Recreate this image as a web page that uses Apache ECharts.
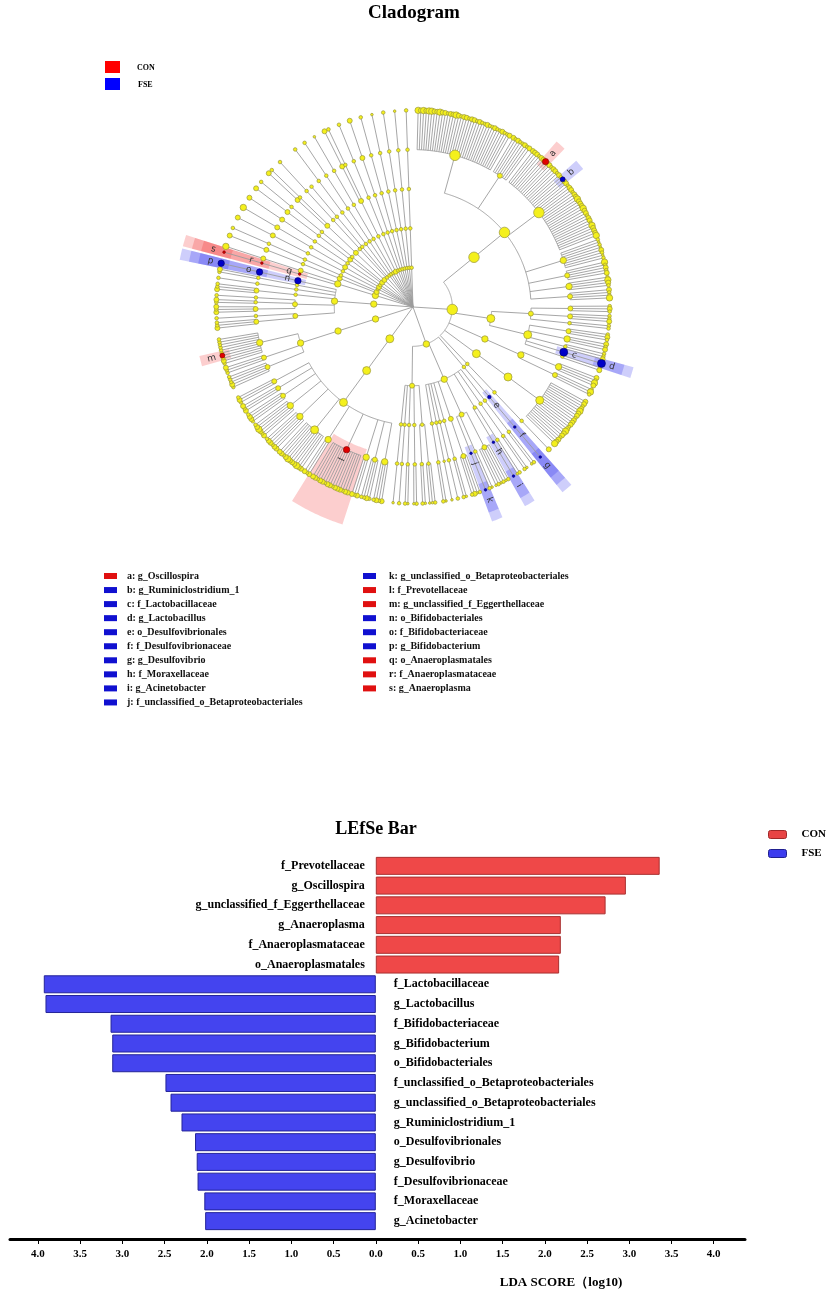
<!DOCTYPE html>
<html><head><meta charset="utf-8">
<script src="https://cdn.jsdelivr.net/npm/echarts@6/dist/echarts.min.js"></script>
<style>html,body{margin:0;padding:0;background:#fff}#main{width:834px;height:1299px}</style>
</head><body><div id="main"></div>
<script>
// ---------------- LEfSe bar data ----------------
const barCategories = ['f_Prevotellaceae','g_Oscillospira','g_unclassified_f_Eggerthellaceae','g_Anaeroplasma','f_Anaeroplasmataceae','o_Anaeroplasmatales','f_Lactobacillaceae','g_Lactobacillus','f_Bifidobacteriaceae','g_Bifidobacterium','o_Bifidobacteriales','f_unclassified_o_Betaproteobacteriales','g_unclassified_o_Betaproteobacteriales','g_Ruminiclostridium_1','o_Desulfovibrionales','g_Desulfovibrio','f_Desulfovibrionaceae','f_Moraxellaceae','g_Acinetobacter'];
const barGroups = ['CON','CON','CON','CON','CON','CON','FSE','FSE','FSE','FSE','FSE','FSE','FSE','FSE','FSE','FSE','FSE','FSE','FSE'];
const ldaScores = [3.36,2.96,2.72,2.19,2.19,2.17,3.93,3.91,3.14,3.12,3.12,2.49,2.43,2.30,2.14,2.12,2.11,2.03,2.02];
const ldaTicks = [-4,-3.5,-3,-2.5,-2,-1.5,-1,-0.5,0,0.5,1,1.5,2,2.5,3,3.5,4];

// ---------------- Cladogram biomarkers ----------------
const markerLetters = ['a','b','c','d','e','f','g','h','i','j','k','l','m','n','o','p','q','r','s'];
const markerTaxa = ['g_Oscillospira','g_Ruminiclostridium_1','f_Lactobacillaceae','g_Lactobacillus','o_Desulfovibrionales','f_Desulfovibrionaceae','g_Desulfovibrio','f_Moraxellaceae','g_Acinetobacter','f_unclassified_o_Betaproteobacteriales','g_unclassified_o_Betaproteobacteriales','f_Prevotellaceae','g_unclassified_f_Eggerthellaceae','o_Bifidobacteriales','f_Bifidobacteriaceae','g_Bifidobacterium','o_Anaeroplasmatales','f_Anaeroplasmataceae','g_Anaeroplasma'];
const markerGroups = ['CON','FSE','FSE','FSE','FSE','FSE','FSE','FSE','FSE','FSE','FSE','CON','CON','FSE','FSE','FSE','CON','CON','CON'];

// ---------------- Cladogram tree (estimated) ----------------
// node size codes 0..5 (relative abundance class)
const phylumSizes = [['Firmicutes',5],['Proteobacteria',3],['Bacteroidetes',4],['Actinobacteria_2',3],['Actinobacteria',3],['Tenericutes',3],['Cyanobacteria',2],['Verrucomicrobia',2],['Patescibacteria',2],['Epsilonbacteraeota',2],['Fusobacteria',2]];
const classSizes = [['Clostridia',5],['Bacilli',4],['Negativicutes',3],['Erysipelotrichia',4],['Limnochordia',1],['Deltaproteobacteria',1],['Gammaproteobacteria',3],['Alphaproteobacteria',2],['Bacteroidia',4],['Coriobacteriia',3],['Actinobacteria',3],['Mollicutes',3],['Melainabacteria',2],['Verrucomicrobiae',2],['Saccharimonadia',2],['Campylobacteria',2]];
const orderSizes = [['Clostridiales',5],['Bacillales',2],['Lactobacillales',4],['Selenomonadales',3],['Erysipelotrichales',4],['Desulfovibrionales',1],['Pseudomonadales',1],['Betaproteobacteriales',2],['Enterobacteriales',2],['Bacteroidales',4],['Coriobacteriales',3],['Bifidobacteriales',3],['Anaeroplasmatales',0],['Mollicutes_RF39',2],['Micrococcales',2],['Corynebacteriales',2],['Campylobacterales',2],['Fusobacteriales',2]];
// [phylum, class, order, family, familySize, genera sizes ("name=size" for named genera)]
const familyRows = [
['Firmicutes','Clostridia','Clostridiales','Lachnospiraceae',5,'3 2 3 2 3 3 2 2 3 2 2 1 2 2 3 2 1 2 2 1 2 2 1 2 1 1 2 1 1 2 1 1 2 1 1 2'],
['Firmicutes','Clostridia','Clostridiales','Christensenellaceae',2,'2 1 2 1 1 2 1 2'],
['Firmicutes','Clostridia','Clostridiales','Ruminococcaceae',5,'2 2 2 1 2 2 Oscillospira=3 2 2 1 2 2 1 2 1 Ruminiclostridium_1=2 2 2 1 2 2 1 2 2 3 2 2 2 3 2 2 1 2 2 1 3 2 2 2 3'],
['Firmicutes','Clostridia','Clostridiales','Peptococcaceae',3,'1 0 1 0 2 1 0 1'],
['Firmicutes','Clostridia','Clostridiales','Clostridiaceae_1',2,'3 1 2 1 2'],
['Firmicutes','Clostridia','Clostridiales','Peptostreptococcaceae',3,'1 3 2 1'],
['Firmicutes','Clostridia','Clostridiales','Family_XIII',2,'2 1 1 3'],
['Firmicutes','Bacilli','Bacillales','Staphylococcaceae',2,'1 2 1'],
['Firmicutes','Bacilli','Bacillales','Bacillaceae',2,'1 1 2'],
['Firmicutes','Bacilli','Bacillales','Planococcaceae',1,'1 1'],
['Firmicutes','Bacilli','Lactobacillales','Enterococcaceae',2,'1 2 1'],
['Firmicutes','Bacilli','Lactobacillales','Streptococcaceae',3,'2 1 2'],
['Firmicutes','Bacilli','Lactobacillales','Leuconostocaceae',1,'1 1 2'],
['Firmicutes','Bacilli','Lactobacillales','Lactobacillaceae',4,'Lactobacillus=4'],
['Firmicutes','Bacilli','Lactobacillales','Carnobacteriaceae',1,'1 2'],
['Firmicutes','Negativicutes','Selenomonadales','Veillonellaceae',3,'2 1 3 2'],
['Firmicutes','Negativicutes','Selenomonadales','Acidaminococcaceae',2,'1 3 1'],
['Firmicutes','Erysipelotrichia','Erysipelotrichales','Erysipelotrichaceae',4,'2 2 1 2 3 2 2 1 2 2 2 1 2 3 2 2 1 2 2 3'],
['Firmicutes','Limnochordia','Limnochordales','Limnochordaceae',1,'2'],
['Proteobacteria','Deltaproteobacteria','Desulfovibrionales','Desulfovibrionaceae',0,'Desulfovibrio=0'],
['Proteobacteria','Gammaproteobacteria','Aeromonadales','Succinivibrionaceae',1,'1 0'],
['Proteobacteria','Gammaproteobacteria','Pasteurellales','Pasteurellaceae',1,'0 1'],
['Proteobacteria','Gammaproteobacteria','Pseudomonadales','Pseudomonadaceae',1,'1 0'],
['Proteobacteria','Gammaproteobacteria','Pseudomonadales','Moraxellaceae',0,'Acinetobacter=0'],
['Proteobacteria','Gammaproteobacteria','Betaproteobacteriales','Burkholderiaceae',2,'1 0 1 0 1 0'],
['Proteobacteria','Gammaproteobacteria','Betaproteobacteriales','Neisseriaceae',1,'0 1'],
['Proteobacteria','Gammaproteobacteria','Betaproteobacteriales','unclassified_o_Betaproteobacteriales',0,'unclassified_o_Betaproteobacteriales=0'],
['Proteobacteria','Gammaproteobacteria','Enterobacteriales','Enterobacteriaceae',2,'1 0 2 1'],
['Proteobacteria','Gammaproteobacteria','Xanthomonadales','Xanthomonadaceae',1,'0 1'],
['Proteobacteria','Gammaproteobacteria','Cardiobacteriales','Wohlfahrtiimonadaceae',1,'1'],
['Proteobacteria','Gammaproteobacteria','Legionellales','Legionellaceae',0,'0'],
['Proteobacteria','Gammaproteobacteria','Oceanospirillales','Halomonadaceae',1,'0 1'],
['Proteobacteria','Alphaproteobacteria','Rhizobiales','Rhizobiaceae',1,'1 0 0'],
['Proteobacteria','Alphaproteobacteria','Rhizobiales','Beijerinckiaceae',1,'0 1'],
['Proteobacteria','Alphaproteobacteria','Sphingomonadales','Sphingomonadaceae',1,'1 0'],
['Proteobacteria','Alphaproteobacteria','Rhodobacterales','Rhodobacteraceae',1,'0 1'],
['Proteobacteria','Alphaproteobacteria','Caulobacterales','Caulobacteraceae',1,'1'],
['Proteobacteria','Alphaproteobacteria','Rickettsiales','Mitochondria',1,'0'],
['Bacteroidetes','Bacteroidia','Bacteroidales','Rikenellaceae',3,'2 1 2 1'],
['Bacteroidetes','Bacteroidia','Bacteroidales','Tannerellaceae',2,'1 2 1 1'],
['Bacteroidetes','Bacteroidia','Bacteroidales','Barnesiellaceae',3,'2 1 2'],
['Bacteroidetes','Bacteroidia','Bacteroidales','Prevotellaceae',3,'2 2 1 2 2 2 1 2 2 1 2 2 1 2 2'],
['Bacteroidetes','Bacteroidia','Bacteroidales','Bacteroidaceae',3,'2 1 2'],
['Bacteroidetes','Bacteroidia','Bacteroidales','Muribaculaceae',4,'2 2 3 2 2 2 3 2 1 2 2'],
['Bacteroidetes','Bacteroidia','Bacteroidales','Marinifilaceae',3,'2 2 1 2 2 1'],
['Bacteroidetes','Bacteroidia','Bacteroidales','p-2534-18B5_gut_group',3,'2 1 2 3 2 1'],
['Bacteroidetes','Bacteroidia','Bacteroidales','Dysgonomonadaceae',2,'1 2 2 1'],
['Bacteroidetes','Bacteroidia','Bacteroidales','Bacteroidales_unclassified',2,'2 1 2'],
['Bacteroidetes','Bacteroidia','Bacteroidales','F082',2,'1 2 1'],
['Actinobacteria_2','Coriobacteriia','Coriobacteriales','Atopobiaceae',2,'1 2 1 1 1'],
['Actinobacteria_2','Coriobacteriia','Coriobacteriales','Coriobacteriaceae',2,'1 1 2'],
['Actinobacteria_2','Coriobacteriia','Coriobacteriales','Eggerthellaceae',3,'1 2 1 unclassified_f_Eggerthellaceae=2 1 1 1 1 1 1'],
['Actinobacteria','Actinobacteria','Corynebacteriales','Corynebacteriaceae',2,'2 1 1'],
['Actinobacteria','Actinobacteria','Corynebacteriales','Nocardiaceae',1,'1'],
['Actinobacteria','Actinobacteria','Micrococcales','Micrococcaceae',2,'2 1 2'],
['Actinobacteria','Actinobacteria','Micrococcales','Microbacteriaceae',1,'1 2'],
['Actinobacteria','Actinobacteria','Micrococcales','Brevibacteriaceae',1,'1'],
['Actinobacteria','Actinobacteria','Propionibacteriales','Propionibacteriaceae',2,'2 1 1'],
['Actinobacteria','Actinobacteria','Streptomycetales','Streptomycetaceae',1,'1'],
['Actinobacteria','Actinobacteria','Actinomycetales','Actinomycetaceae',1,'1 2'],
['Actinobacteria','Actinobacteria','Bifidobacteriales','Bifidobacteriaceae',3,'Bifidobacterium=3'],
['Tenericutes','Mollicutes','Anaeroplasmatales','Anaeroplasmataceae',0,'Anaeroplasma=0'],
['Tenericutes','Mollicutes','Mollicutes_RF39','RF39_f',2,'3'],
['Cyanobacteria','Melainabacteria','Gastranaerophilales','Gastranaerophilales_f',2,'2'],
['Cyanobacteria','Oxyphotobacteria','Chloroplast','Chloroplast_f',1,'1'],
['Spirochaetes','Spirochaetia','Spirochaetales','Spirochaetaceae',2,'2'],
['Verrucomicrobia','Verrucomicrobiae','Verrucomicrobiales','Akkermansiaceae',2,'3'],
['Deferribacteres','Deferribacteres_c','Deferribacterales','Deferribacteraceae',2,'2'],
['Patescibacteria','Saccharimonadia','Saccharimonadales','Saccharimonadaceae',2,'2'],
['Patescibacteria','Gracilibacteria','Absconditabacteriales','Absconditabacteriales_f',1,'1'],
['Epsilonbacteraeota','Campylobacteria','Campylobacterales','Helicobacteraceae',2,'2'],
['Epsilonbacteraeota','Campylobacteria','Campylobacterales','Campylobacteraceae',1,'1'],
['Chloroflexi','Anaerolineae','Anaerolineales','Anaerolineaceae',1,'1'],
['Chloroflexi','Chloroflexia','Chloroflexales','Roseiflexaceae',1,''],
['Acidobacteria','Subgroup_6','Subgroup_6_o','Subgroup_6_f',1,'1'],
['Planctomycetes','Planctomycetacia','Pirellulales','Pirellulaceae',1,'1'],
['Gemmatimonadetes','Gemmatimonadetes_c','Gemmatimonadales','Gemmatimonadaceae',1,'0'],
['Fusobacteria','Fusobacteriia','Fusobacteriales','Fusobacteriaceae',2,'2'],
['Fusobacteria','Fusobacteriia','Fusobacteriales','Leptotrichiaceae',1,'1'],
['Synergistetes','Synergistia','Synergistales','Synergistaceae',1,'1'],
['Elusimicrobia','Elusimicrobia_c','Elusimicrobiales','Elusimicrobiaceae',2,'2'],
['Lentisphaerae','Lentisphaeria','Victivallales','Victivallaceae',1,'1'],
['Armatimonadetes','Fimbriimonadia','Fimbriimonadales','Fimbriimonadaceae',1,'0'],
['Deinococcus-Thermus','Deinococci','Deinococcales','Deinococcaceae',1,'1'],
['Nitrospirae','Nitrospira','Nitrospirales','Nitrospiraceae',1,'0'],
['Kiritimatiellaeota','Kiritimatiellae','WCHB1-41','WCHB1-41_f',1,'1']
];

// ---------------- layout / style constants ----------------
const FONT = "'Times New Roman','Liberation Serif',serif";
const prefixes = ['p_','c_','o_','f_','g_'];
const gapByLevel = [0, 4.2, 3.0, 2.2, 1.6, 1.0];
const sizePx = [2.6, 3.6, 5.0, 6.4, 8.0, 10.5];
const groupFill = {CON:'#e00000', FSE:'#0000c8'};
const bandFill = {CON:'rgba(240,30,30,0.22)', FSE:'rgba(30,30,235,0.22)'};

// ---------------- build tree ----------------
const maps = [null, new Map(phylumSizes), new Map(classSizes), new Map(orderSizes)];
const root = {name:'root', depth:0, children:[]};
function getChild(parent, name, depth, size){
  let c = parent.children.find(x => x.name === name);
  if (!c){ c = {name, depth, children:[], parent, size, key: prefixes[depth-1] + name}; parent.children.push(c); }
  return c;
}
familyRows.forEach(([p,c,o,f,fs,gs]) => {
  const pn = getChild(root, p, 1, maps[1].has(p) ? maps[1].get(p) : 1);
  const cn = getChild(pn, c, 2, maps[2].has(c) ? maps[2].get(c) : 1);
  const on = getChild(cn, o, 3, maps[3].has(o) ? maps[3].get(o) : 1);
  const fn = getChild(on, f, 4, fs);
  gs.split(' ').filter(t => t).forEach((t, i) => {
    const parts = t.includes('=') ? t.split('=') : [f + '_' + i, t];
    getChild(fn, parts[0], 5, +parts[1]);
  });
});
const leaves = [];
(function walk(n){ if (!n.children.length && n.depth > 0) leaves.push(n); n.children.forEach(walk); })(root);
let pos = 0, prevPath = null;
leaves.forEach(l => {
  const path = []; let x = l; while (x.depth > 0){ path.unshift(x); x = x.parent; }
  if (prevPath){ let lvl = 1; while (lvl <= 5 && path[lvl-1] === prevPath[lvl-1]) lvl++; pos += gapByLevel[Math.min(lvl,5)]; }
  l.pos = pos; prevPath = path;
});
const totalPos = pos;
leaves.forEach(l => { l.angle = 1.5 + l.pos / totalPos * 356.5; });
(function post(n){
  n.children.forEach(post);
  if (n.children.length){
    const a0 = n.children[0], a1 = n.children[n.children.length-1];
    n.angle = (a0.angle + a1.angle) / 2; n.arc0 = a0.angle; n.arc1 = a1.angle;
    n.leafMin = a0.leafMin; n.leafMax = a1.leafMax;
  } else { n.leafMin = n.leafMax = n.angle; }
})(root);
const allNodes = [];
(function flat(n){ if (n.depth > 0) allNodes.push(n); n.children.forEach(flat); })(root);
const nodeByKey = new Map(allNodes.map(n => [n.key, n]));
const markerIndexByKey = new Map(markerTaxa.map((t,i) => [t,i]));

const edgeData = allNodes.map(n => [n.depth, n.angle, n.parent.depth, n.children.length > 1 ? n.arc0 : -1, n.children.length > 1 ? n.arc1 : -1]);
const plainNodeData = allNodes.filter(n => !markerIndexByKey.has(n.key)).map(n => [n.depth, n.angle, n.size]);
const markerNodeData = {CON:[], FSE:[]};
const bandData = [], letterData = [];
markerTaxa.forEach((t,i) => {
  const n = nodeByKey.get(t); if (!n) return;
  const g = markerGroups[i];
  markerNodeData[g].push([n.depth, n.angle, n.size]);
  bandData.push([n.depth - 0.2, 5.57 + (5 - n.depth) * 0.24, n.leafMin - 1.4, n.leafMax + 1.4, g === 'CON' ? 0 : 1]);
  letterData.push([n.depth + 0.28, n.angle, i]);
});

function arcPoints(api, r, a0, a1){
  const pts = []; const k = Math.max(2, Math.ceil(Math.abs(a1 - a0) / 0.5));
  for (let j = 0; j <= k; j++) pts.push(api.coord([r, a0 + (a1 - a0) * j / k]));
  return pts;
}

// ---------------- graphics: legends / axis title ----------------
const graphics = [];
graphics.push({type:'rect', left:105, top:61, shape:{width:15, height:12}, style:{fill:'#ff0000'}});
graphics.push({type:'rect', left:105, top:78, shape:{width:15, height:12}, style:{fill:'#0000ff'}});
graphics.push({type:'text', x:137, y:67.5, style:{text:'CON', font:`bold 8px ${FONT}`, fill:'#000', verticalAlign:'middle'}});
graphics.push({type:'text', x:138, y:84.5, style:{text:'FSE', font:`bold 8px ${FONT}`, fill:'#000', verticalAlign:'middle'}});
markerLetters.forEach((L,i) => {
  const col = i < 10 ? 0 : 1, row = i < 10 ? i : i - 10;
  const y = 576 + row * 14.05;
  graphics.push({type:'rect', left: col ? 363 : 104, top: y - 3, shape:{width:13, height:6}, style:{fill: markerGroups[i] === 'CON' ? '#e01010' : '#1010d0'}});
  graphics.push({type:'text', x: col ? 389 : 127, y: y, style:{text: L + ': ' + markerTaxa[i], font:`bold 10px ${FONT}`, fill:'#111', verticalAlign:'middle'}});
});
graphics.push({type:'text', x:561, y:1283, style:{text:'LDA SCORE（log10)', font:`bold 13px ${FONT}`, fill:'#000', align:'center', verticalAlign:'middle'}});

const option = {
  animation: false,
  backgroundColor: '#fff',
  title: [
    {text:'Cladogram', left:414, top:4, textAlign:'center', padding:0, textStyle:{fontFamily:FONT, fontWeight:'bold', fontSize:19, color:'#000'}},
    {text:'LEfSe Bar', left:376, top:820, textAlign:'center', padding:0, textStyle:{fontFamily:FONT, fontWeight:'bold', fontSize:18, color:'#000'}}
  ],
  legend: {data:[{name:'CON', itemStyle:{color:'#e84444', borderColor:'#a02828', borderWidth:1}}, {name:'FSE', itemStyle:{color:'#3c3cee', borderColor:'#20208f', borderWidth:1}}],
    left:768, top:829, orient:'vertical', icon:'roundRect', itemWidth:18, itemHeight:8, itemGap:8, padding:0,
    textStyle:{fontFamily:FONT, fontWeight:'bold', fontSize:11, color:'#000', padding:[0,0,0,10]}},
  polar: {center:[413, 307], radius:240},
  angleAxis: {type:'value', min:0, max:360, startAngle:90, clockwise:true, show:false},
  radiusAxis: {type:'value', min:0, max:6.1, show:false},
  grid: {left:10, right:89, top:856, height:375},
  xAxis: {type:'value', min:-4.33, max:4.37, offset:8,
    axisLine:{show:true, lineStyle:{color:'#000', width:3}},
    axisTick:{show:true, customValues:ldaTicks, length:5, lineStyle:{color:'#000', width:1}},
    axisLabel:{customValues:ldaTicks, formatter:v => Math.abs(v).toFixed(1), fontFamily:FONT, fontWeight:'bold', fontSize:11, color:'#000', margin:10},
    splitLine:{show:false}},
  yAxis: {type:'category', data:barCategories, inverse:true, show:false},
  graphic: graphics,
  series: [
    {type:'custom', coordinateSystem:'polar', z:1, silent:true, data:bandData,
      renderItem:(params, api) => {
        const r0 = api.value(0), r1 = api.value(1), a0 = api.value(2), a1 = api.value(3), g = api.value(4);
        const pts = arcPoints(api, r1, a0, a1).concat(arcPoints(api, r0, a1, a0));
        return {type:'polygon', shape:{points:pts}, style:{fill: g ? bandFill.FSE : bandFill.CON}};
      }},
    {type:'custom', coordinateSystem:'polar', z:2, silent:true, data:edgeData,
      renderItem:(params, api) => {
        const d = api.value(0), a = api.value(1), pd = api.value(2), a0 = api.value(3), a1 = api.value(4);
        const p1 = api.coord([pd, a]), p2 = api.coord([d, a]);
        const ch = [{type:'line', shape:{x1:p1[0], y1:p1[1], x2:p2[0], y2:p2[1]}, style:{stroke:'#9c9c9c', lineWidth:0.9}}];
        if (a0 >= 0 && a1 > a0) ch.push({type:'polyline', shape:{points:arcPoints(api, d, a0, a1)}, style:{stroke:'#9c9c9c', lineWidth:0.9, fill:null}});
        return {type:'group', children:ch};
      }},
    {name:'taxa', type:'scatter', coordinateSystem:'polar', z:3, silent:true, data:plainNodeData,
      symbolSize:v => sizePx[v[2]], itemStyle:{color:'#f4f01c', borderColor:'#9a963c', borderWidth:0.7, opacity:1}},
    {name:'CON_markers', type:'scatter', coordinateSystem:'polar', z:4, silent:true, data:markerNodeData.CON,
      symbolSize:v => sizePx[v[2]], itemStyle:{color:groupFill.CON, borderColor:'#7a0000', borderWidth:0.6, opacity:1}},
    {name:'FSE_markers', type:'scatter', coordinateSystem:'polar', z:4, silent:true, data:markerNodeData.FSE,
      symbolSize:v => sizePx[v[2]], itemStyle:{color:groupFill.FSE, borderColor:'#00006a', borderWidth:0.6, opacity:1}},
    {type:'custom', coordinateSystem:'polar', z:5, silent:true, data:letterData,
      renderItem:(params, api) => {
        const r = api.value(0), a = api.value(1), i = api.value(2);
        const p = api.coord([r, a]);
        const rot = (a < 180 ? -(a - 90) : -(a - 270)) * Math.PI / 180;
        return {type:'text', x:p[0], y:p[1], rotation:rot, style:{text:markerLetters[i], fill:'#333', font:"9px 'DejaVu Sans',sans-serif", align:'center', verticalAlign:'middle'}};
      }},
    {name:'CON', type:'bar', xAxisIndex:0, yAxisIndex:0, barWidth:18, barGap:'-100%',
      data: ldaScores.map((v,i) => barGroups[i] === 'CON' ? v : null),
      itemStyle:{color:'#ef4848', borderColor:'#a83030', borderWidth:1},
      label:{show:true, position:'left', distance:11, formatter:p => barCategories[p.dataIndex], fontFamily:FONT, fontWeight:'bold', fontSize:12, color:'#000'}},
    {name:'FSE', type:'bar', xAxisIndex:0, yAxisIndex:0, barWidth:18, barGap:'-100%',
      data: ldaScores.map((v,i) => barGroups[i] === 'FSE' ? -v : null),
      itemStyle:{color:'#4444ef', borderColor:'#24249a', borderWidth:1},
      label:{show:true, position:'right', distance:18, formatter:p => barCategories[p.dataIndex], fontFamily:FONT, fontWeight:'bold', fontSize:12, color:'#000'}}
  ]
};
const chart = echarts.init(document.getElementById('main'), null, {renderer:'canvas'});
chart.setOption(option);
</script>
</body></html>
